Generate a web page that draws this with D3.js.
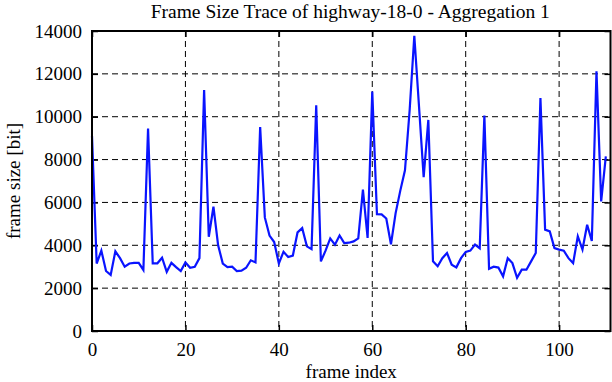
<!DOCTYPE html>
<html>
<head>
<meta charset="utf-8">
<script src="https://cdn.jsdelivr.net/npm/d3@7/dist/d3.min.js"></script>
<style>
  html, body { margin: 0; padding: 0; background: #fff; }
  svg { display: block; }
  svg text { font-family: "Liberation Serif", "DejaVu Serif", serif !important; fill: #000; }
</style>
</head>
<body>
<svg id="chart" width="612" height="382"></svg>
<script>
const title = "Frame Size Trace of highway-18-0 - Aggregation 1";
const xLabel = "frame index";
const yLabel = "frame size [bit]";
const xTicks = [0, 20, 40, 60, 80, 100];
const yTicks = [0, 2000, 4000, 6000, 8000, 10000, 12000, 14000];
const xDomain = [0, 111];
const yDomain = [0, 14000];
const frameSize = [
  9100, 3150, 3750, 2800, 2620, 3720, 3400, 3000, 3150, 3180,
  3180, 2850, 9450, 3160, 3160, 3420, 2760, 3180, 2980, 2800,
  3200, 2950, 3000, 3400, 11250, 4400, 5800, 4000, 3150, 2980,
  3000, 2800, 2820, 2950, 3300, 3200, 9520, 5300, 4450, 4150,
  3150, 3700, 3450, 3520, 4600, 4800, 3950, 3820, 10530, 3250,
  3750, 4320, 4030, 4460, 4100, 4120, 4180, 4320, 6600, 4340,
  11180, 5450, 5440, 5250, 4050, 5500, 6550, 7500, 10300, 13780,
  10500, 7180, 9850, 3250, 3020, 3400, 3640, 3095, 2970, 3400,
  3690, 3750, 4030, 3860, 10060, 2900, 3000, 2960, 2550, 3400,
  3170, 2480, 2860, 2860, 3250, 3640, 10870, 4730, 4650, 3870,
  3800, 3750, 3400, 3170, 4420, 3800, 4960, 4200, 12120, 6050,
  8150
];

const svg = d3.select("#chart");
const L = 92, R = 610.5, T = 31, B = 331;
const x = d3.scaleLinear().domain(xDomain).range([L, R]);
const y = d3.scaleLinear().domain(yDomain).range([B, T]);

// grid
const grid = svg.append("g");
grid.selectAll("line.gx").data(xTicks.filter(d => d > xDomain[0] && d < xDomain[1]))
  .enter().append("line")
  .attr("x1", d => x(d)).attr("x2", d => x(d)).attr("y1", T).attr("y2", B)
  .attr("stroke", "#000").attr("stroke-width", 1).attr("stroke-dasharray", "6,4");
grid.selectAll("line.gy").data(yTicks.filter(d => d > yDomain[0] && d < yDomain[1]))
  .enter().append("line")
  .attr("x1", L).attr("x2", R).attr("y1", d => y(d)).attr("y2", d => y(d))
  .attr("stroke", "#000").attr("stroke-width", 1).attr("stroke-dasharray", "6,4");

// axes with inward ticks
const tick = 6;
const axB = svg.append("g").attr("transform", `translate(0,${B})`)
  .call(d3.axisBottom(x).tickValues(xTicks).tickSize(-tick).tickPadding(12).tickFormat(d3.format("d")));
const axT = svg.append("g").attr("transform", `translate(0,${T})`)
  .call(d3.axisTop(x).tickValues(xTicks).tickSize(-tick).tickFormat(""));
const axL = svg.append("g").attr("transform", `translate(${L},0)`)
  .call(d3.axisLeft(y).tickValues(yTicks).tickSize(-tick).tickPadding(10).tickFormat(d3.format("d")));
const axR = svg.append("g").attr("transform", `translate(${R},0)`)
  .call(d3.axisRight(y).tickValues(yTicks).tickSize(-tick).tickFormat(""));
[axB, axT, axL, axR].forEach(a => {
  a.attr("font-family", "Liberation Serif, serif").attr("font-size", 19);
  a.select(".domain").remove();
  a.selectAll(".tick line").attr("stroke", "#000").attr("stroke-width", 1.5);
  a.selectAll(".tick text").style("font-family", "'Liberation Serif', serif").style("font-size", "19px");
});

// data line
const line = d3.line().x((d, i) => x(i)).y(d => y(d));
svg.append("path").datum(frameSize)
  .attr("d", line).attr("fill", "none")
  .attr("stroke", "#0a14ff").attr("stroke-width", 2.2).attr("stroke-linejoin", "miter");

// frame
svg.append("rect").attr("x", L).attr("y", T).attr("width", R - L).attr("height", B - T)
  .attr("fill", "none").attr("stroke", "#000").attr("stroke-width", 2);

// labels
svg.append("text").attr("x", (L + R) / 2 - 1).attr("y", 18).attr("text-anchor", "middle")
  .style("font-size", "19.5px").text(title);
svg.append("text").attr("x", (L + R) / 2).attr("y", 378).attr("text-anchor", "middle")
  .style("font-size", "19px").text(xLabel);
svg.append("text").attr("transform", `translate(20,${(T + B) / 2}) rotate(-90)`)
  .attr("text-anchor", "middle").style("font-size", "19px").text(yLabel);
</script>
</body>
</html>
